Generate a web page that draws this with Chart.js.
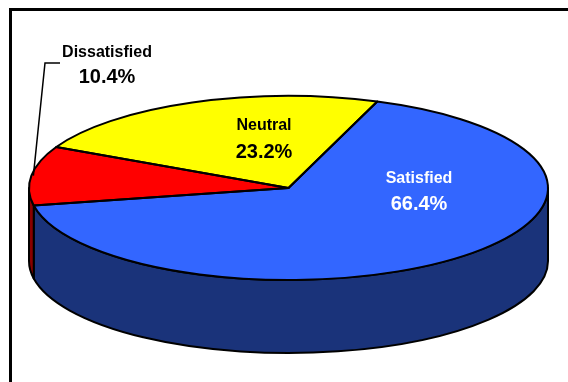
<!DOCTYPE html>
<html>
<head>
<meta charset="utf-8">
<script src="https://cdn.jsdelivr.net/npm/chart.js@4/dist/chart.umd.min.js"></script>
<style>
  html, body { margin: 0; padding: 0; background: #fff; }
  #wrap { position: relative; width: 568px; height: 382px; overflow: hidden; }
  #frame { position: absolute; left: 9px; top: 8px; width: 600px; height: 400px;
           border-left: 3px solid #000; border-top: 3px solid #000; box-sizing: border-box; }
  canvas { position: absolute; left: 0; top: 0; }
</style>
</head>
<body>
<div id="wrap">
  <div id="frame"></div>
  <canvas id="chart" width="568" height="382"></canvas>
</div>
<script>
// Survey result shares (percent)
const categories = ['Satisfied', 'Dissatisfied', 'Neutral'];
const shares = [66.4, 10.4, 23.2];
const valueLabels = ['66.4%', '10.4%', '23.2%'];

// Face and wall colours per slice
const topColors = ['#3366FF', '#FF0000', '#FFFF00'];
const sideColors = ['#1A337A', '#8A0000', '#8A8A00'];
const textColors = ['#FFFFFF', '#000000', '#000000'];

// Label anchors: [centre x, name baseline, value baseline]
const labelAnchors = [[419, 183, 210], [107, 57, 83], [264, 130, 158]];

const TILT = 92 / 259.5;   // vertical squash of the disc
const DEPTH = 73;          // wall height in px
const EDGE = 2;            // outline width

function geom(chart) {
  const arcs = chart.getDatasetMeta(0).data;
  const a0 = arcs[0];
  return { arcs, cx: a0.x, cy: a0.y, rx: a0.outerRadius, ry: a0.outerRadius * TILT };
}

// Intersect [s,e] with the front half of the disc (angles 0..PI, mod 2PI)
function frontParts(s, e) {
  const parts = [];
  for (let k = -2; k <= 2; k++) {
    const lo = Math.max(s, 2 * Math.PI * k);
    const hi = Math.min(e, 2 * Math.PI * k + Math.PI);
    if (hi > lo) parts.push([lo, hi]);
  }
  return parts;
}

const pie3d = {
  id: 'pie3d',
  beforeDatasetsDraw(chart) {
    const ctx = chart.ctx;
    const { arcs, cx, cy, rx, ry } = geom(chart);
    // side walls
    ctx.save();
    ctx.lineWidth = EDGE;
    ctx.strokeStyle = '#000';
    ctx.lineJoin = 'round';
    arcs.forEach((arc, i) => {
      frontParts(arc.startAngle, arc.endAngle).forEach(([a, b]) => {
        ctx.beginPath();
        ctx.moveTo(cx + rx * Math.cos(a), cy + ry * Math.sin(a));
        ctx.ellipse(cx, cy, rx, ry, 0, a, b);
        ctx.lineTo(cx + rx * Math.cos(b), cy + DEPTH + ry * Math.sin(b));
        ctx.ellipse(cx, cy + DEPTH, rx, ry, 0, b, a, true);
        ctx.closePath();
        ctx.fillStyle = sideColors[i];
        ctx.fill();
        ctx.stroke();
      });
    });
    ctx.restore();
    // squash the top face into an ellipse
    ctx.save();
    ctx.translate(cx, cy);
    ctx.scale(1, ry / rx);
    ctx.translate(-cx, -cy);
  },
  afterDatasetsDraw(chart) {
    const ctx = chart.ctx;
    ctx.restore();
    const { arcs, cx, cy, rx, ry } = geom(chart);
    ctx.save();
    ctx.lineWidth = EDGE;
    ctx.strokeStyle = '#000';
    ctx.lineJoin = 'round';
    arcs.forEach(arc => {
      ctx.beginPath();
      ctx.moveTo(cx, cy);
      ctx.ellipse(cx, cy, rx, ry, 0, arc.startAngle, arc.endAngle);
      ctx.closePath();
      ctx.stroke();
    });
    ctx.restore();
  },
  afterDraw(chart) {
    const ctx = chart.ctx;
    const { arcs, cx, cy, rx, ry } = geom(chart);
    ctx.save();
    // leader for the small slice
    const red = arcs[1];
    const mid = (red.startAngle + red.endAngle) / 2;
    ctx.beginPath();
    ctx.moveTo(labelAnchors[1][0] - 47, labelAnchors[1][1] + 6);
    ctx.lineTo(labelAnchors[1][0] - 62, labelAnchors[1][1] + 6);
    ctx.lineTo(cx + rx * Math.cos(mid) + 2, cy + ry * Math.sin(mid));
    ctx.lineWidth = 1.5;
    ctx.strokeStyle = '#000';
    ctx.stroke();
    // text labels
    ctx.textAlign = 'center';
    ctx.textBaseline = 'alphabetic';
    categories.forEach((name, i) => {
      const [x, yName, yVal] = labelAnchors[i];
      ctx.fillStyle = textColors[i];
      ctx.font = 'bold 16px "Liberation Sans", Arial, sans-serif';
      ctx.fillText(name, x, yName);
      ctx.font = 'bold 20px "Liberation Sans", Arial, sans-serif';
      ctx.fillText(valueLabels[i], x, yVal);
    });
    ctx.restore();
  }
};

new Chart(document.getElementById('chart'), {
  type: 'pie',
  data: {
    labels: categories,
    datasets: [{
      data: shares,
      backgroundColor: topColors,
      borderWidth: 0
    }]
  },
  options: {
    responsive: false,
    animation: false,
    events: [],
    rotation: 20,
    radius: 259.5,
    layout: { padding: { left: 9, top: 0, right: 0, bottom: 6 } },
    plugins: { legend: { display: false }, tooltip: { enabled: false } }
  },
  plugins: [pie3d]
});
</script>
</body>
</html>
